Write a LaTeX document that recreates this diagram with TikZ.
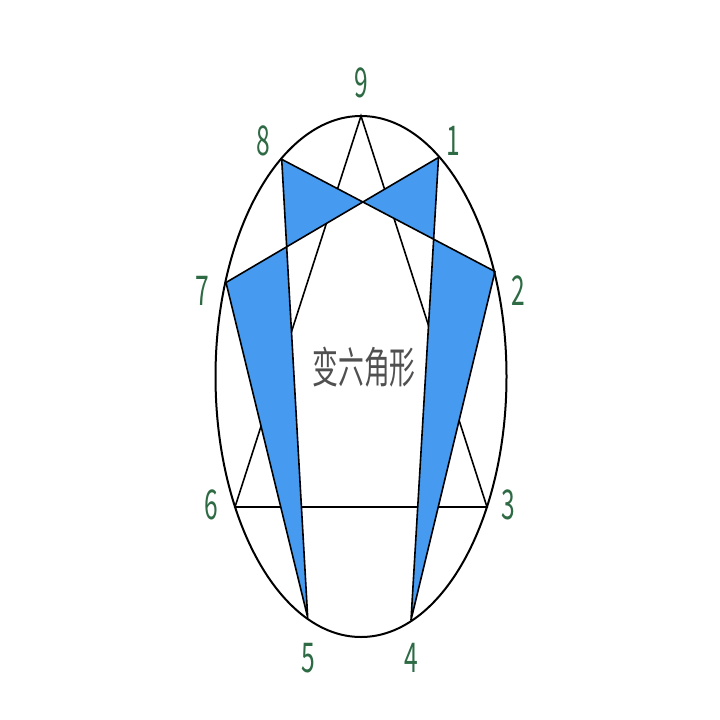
\documentclass[tikz,border=0pt]{standalone}
\usepackage{fontspec}
\usepackage{graphicx}
\newfontfamily\cjk{Noto Sans CJK SC}
\definecolor{numgreen}{HTML}{2E6B45}
\definecolor{fillblue}{HTML}{469BF0}
\definecolor{txtgray}{HTML}{505050}
\tikzset{
  numlabel/.style={text=numgreen, inner sep=0pt, font=\cjk\fontsize{41}{41}\selectfont},
  triline/.style={line width=1.6pt, black},
  hexline/.style={line width=1.6pt, black, line join=round},
  bluefill/.style={fill=fillblue, draw=none},
  rim/.style={line width=2pt, black}
}
\begin{document}
\begin{tikzpicture}[x=1pt,y=-1pt]
\useasboundingbox[fill=white] (0,0) rectangle (720,720);
% points
\coordinate (p9) at (361,116);
\coordinate (p1) at (438.5,157.5);
\coordinate (p2) at (495,271.5);
\coordinate (p3) at (487,507);
\coordinate (p4) at (411,620);
\coordinate (p5) at (307.7,617.5);
\coordinate (p6) at (235,507);
\coordinate (p7) at (226,282.5);
\coordinate (p8) at (281.7,159.3);
\coordinate (X) at (intersection of p8--p2 and p7--p1);
\coordinate (P) at (intersection of p8--p5 and p7--p1);
\coordinate (Q) at (intersection of p1--p4 and p8--p2);
% triangle
\draw[triline] (p9) -- (p3) -- (p6) -- cycle;
% blue fills
\fill[bluefill] (p8) -- (X) -- (P) -- cycle;
\fill[bluefill] (p1) -- (X) -- (Q) -- cycle;
\fill[bluefill] (p7) -- (P) -- (p5) -- cycle;
\fill[bluefill] (p2) -- (Q) -- (p4) -- cycle;
% hexad
\draw[hexline] (p1) -- (p4) -- (p2) -- (p8) -- (p5) -- (p7) -- cycle;
% ellipse
\draw[rim] (361,376.5) ellipse [x radius=145.5pt, y radius=260.5pt];
% labels
\node[numlabel] (l9) at (361,83) {\scalebox{0.6}[1]{9}};
\node[numlabel] (l1) at (453,141) {\scalebox{0.6}[1]{1}};
\node[numlabel] (l2) at (518,291) {\scalebox{0.6}[1]{2}};
\node[numlabel] (l3) at (508,505) {\scalebox{0.6}[1]{3}};
\node[numlabel] (l4) at (411,658) {\scalebox{0.6}[1]{4}};
\node[numlabel] (l5) at (308,658) {\scalebox{0.6}[1]{5}};
\node[numlabel] (l6) at (211,505) {\scalebox{0.6}[1]{6}};
\node[numlabel] (l7) at (202,291) {\scalebox{0.6}[1]{7}};
\node[numlabel] (l8) at (263,141) {\scalebox{0.6}[1]{8}};
\node[text=txtgray, inner sep=0pt, font=\cjk\fontsize{43}{43}\selectfont] (title) at (364,367) {\scalebox{0.6}[1]{变六角形}};
\end{tikzpicture}
\end{document}
